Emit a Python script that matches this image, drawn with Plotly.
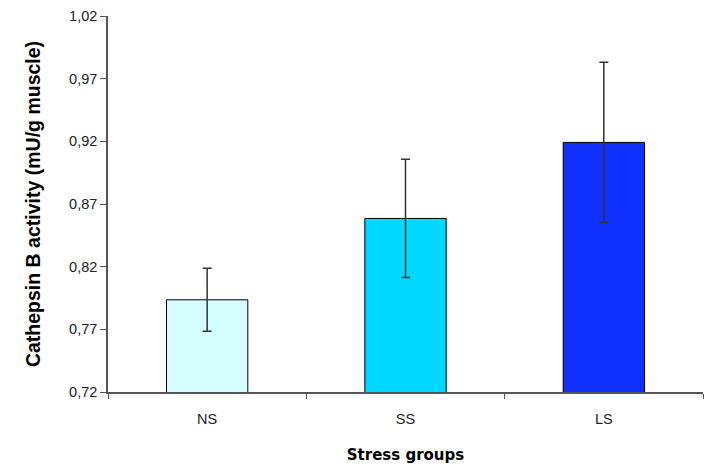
import plotly.graph_objects as go

categories = ["NS", "SS", "LS"]
values = [0.7936, 0.8585, 0.9192]
errors = [0.0252, 0.0472, 0.0640]
colors = ["#D4FDFF", "#00D8FF", "#1030FF"]
y_ticks = [0.72, 0.77, 0.82, 0.87, 0.92, 0.97, 1.02]

fig = go.Figure()
fig.add_trace(go.Bar(
    x=categories, y=values,
    marker=dict(color=colors, line=dict(color="#000000", width=1)),
    width=0.41,
    error_y=dict(type="data", array=errors, visible=True,
                 color="#333333", thickness=1.5, width=4.5),
))

tick_font = dict(family="Liberation Sans, Arial, sans-serif", size=14.5, color="#222222")

fig.update_layout(
    width=705, height=459,
    margin=dict(l=100, r=10, t=8, b=75, autoexpand=False),
    paper_bgcolor="white", plot_bgcolor="white",
    separators=",.",
    showlegend=False,
    font=dict(family="Liberation Sans, Arial, sans-serif", size=14, color="#222222"),
    xaxis=dict(
        automargin=False,
        showline=True, linecolor="#555555", linewidth=1.5,
        ticks="outside", tickson="boundaries", ticklen=5, tickcolor="#555555",
        tickfont=tick_font, ticklabelstandoff=13,
        title=dict(text="<b>Stress groups</b>",
                   font=dict(family="DejaVu Sans, sans-serif", size=15, color="#000000"),
                   standoff=23),
        range=[-0.5, 2.5],
    ),
    yaxis=dict(
        automargin=False,
        range=[0.72, 1.0201], tickvals=y_ticks, tickformat=".2f",
        showline=True, linecolor="#555555", linewidth=1.5,
        ticks="outside", ticklen=6, tickcolor="#555555",
        showgrid=False, zeroline=False,
        tickfont=tick_font,
        title=dict(text="<b>Cathepsin B activity (mU/g muscle)</b>",
                   font=dict(family="Liberation Sans, Arial, sans-serif", size=19.5, color="#000000"),
                   standoff=23),
    ),
)

fig.write_html("out.html")
